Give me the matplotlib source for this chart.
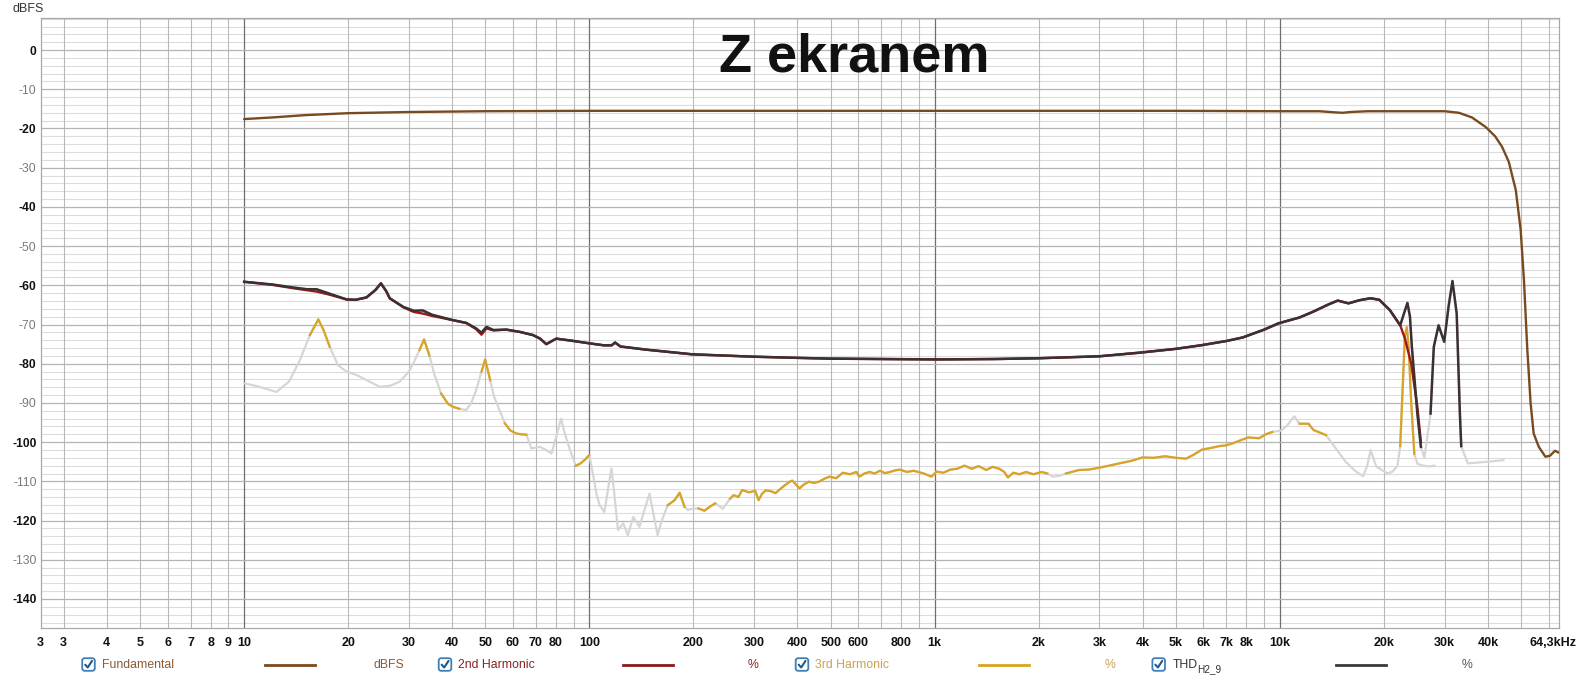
import numpy as np
import matplotlib
matplotlib.use("Agg")
import matplotlib.pyplot as plt
from matplotlib.patches import FancyBboxPatch

# ---------------- data ----------------
fund_f = [10, 12, 15, 20, 30, 50, 100, 1000, 5000, 10000, 13000, 14500, 15200, 16000,
          18000, 25000, 30000, 33000, 36000, 39400, 42000, 44000, 46000, 48200, 49800,
          50900, 52000, 53200, 54300, 56200, 58700, 60500, 62600, 64300]
fund_db = [-17.6, -17.2, -16.6, -16.1, -15.8, -15.6, -15.5, -15.5, -15.5, -15.6, -15.6,
           -15.9, -16.0, -15.8, -15.6, -15.6, -15.6, -16.0, -17.2, -19.6, -22.0, -24.7,
           -28.5, -35.7, -45.9, -58.7, -75.7, -90.0, -97.8, -101.2, -103.7, -103.5,
           -102.2, -102.7]

thd_f = [10, 12.1, 14, 15.2, 16.2, 17.5, 19.8, 21, 22.6, 24, 24.9, 25.8, 26.4, 28.9, 31,
         32.9, 35, 40.3, 44, 47, 48.7, 50.3, 52.7, 57.5, 63, 68.7, 72, 75, 80.2, 90, 100,
         110, 116, 118.7, 123, 145.7, 170, 198.5, 298, 400, 496, 700, 1016, 1500, 2000,
         3000, 3900, 5000, 5900, 7000, 7800, 9000, 9900, 11400, 12500, 13800, 14700,
         15800, 17000, 18300, 19400, 20800, 22300, 22900, 23400, 23800, 24100, 25000,
         25600, 26200, 27300, 27900, 28800, 29900, 30800, 31600, 32500, 33200, 33500,
         35000, 40000, 44400]
thd_db = [-59.1, -59.8, -60.6, -61.0, -61.0, -62.0, -63.6, -63.7, -63.1, -61.2, -59.5,
          -61.5, -63.3, -65.5, -66.5, -66.4, -67.5, -68.9, -69.6, -71.0, -72.1, -70.6,
          -71.4, -71.3, -71.9, -72.7, -73.6, -75.0, -73.6, -74.2, -74.8, -75.3, -75.3,
          -74.6, -75.6, -76.4, -77.0, -77.6, -78.2, -78.5, -78.7, -78.8, -78.9, -78.8,
          -78.6, -78.1, -77.2, -76.2, -75.3, -74.2, -73.3, -71.3, -69.7, -68.2, -66.7,
          -64.9, -63.9, -64.6, -63.8, -63.3, -63.7, -66.3, -70.2, -67.0, -64.5, -68.0,
          -75.7, -92.7, -101.2, -104.0, -92.7, -75.7, -70.2, -74.4, -65.3, -58.9, -67.2,
          -92.7, -101.0, -105.4, -105.0, -104.6]
thd_gray_ranges = [(25800, 27000), (34000, 45000)]

h2_f = [10, 12.1, 14, 16.2, 17.5, 19.8, 21, 22.6, 24, 24.9, 25.8, 26.4, 28.9, 31, 32.9,
        35, 40.3, 44, 47, 48.7, 50.3, 52.7, 57.5, 63, 68.7, 72, 75, 80.2, 90, 100, 110,
        116, 118.7, 123, 145.7, 170, 198.5, 298, 400, 496, 700, 1016, 1500, 2000, 3000,
        3900, 5000, 5900, 7000, 7800, 9000, 9900, 11400, 12500, 13800, 14700, 15800,
        17000, 18300, 19400, 20800, 22300, 23000, 24000, 25000, 25600]
h2_db = [-59.1, -59.9, -60.8, -61.6, -62.3, -63.6, -63.7, -63.1, -61.2, -59.5, -61.5,
         -63.3, -65.6, -66.8, -67.2, -67.8, -68.9, -69.6, -71.2, -72.6, -71.0, -71.5,
         -71.3, -71.9, -72.7, -73.6, -75.0, -73.6, -74.2, -74.8, -75.3, -75.3, -74.6,
         -75.6, -76.4, -77.0, -77.6, -78.2, -78.5, -78.7, -78.8, -78.9, -78.8, -78.6,
         -78.1, -77.2, -76.2, -75.3, -74.2, -73.3, -71.3, -69.7, -68.2, -66.7, -64.9,
         -63.9, -64.6, -63.8, -63.3, -63.7, -66.3, -70.2, -73.5, -80.0, -91.0, -100.0]

h3_f = [10, 11, 12.4, 13.5, 14.5, 15.5, 16.4, 17.0, 17.7, 18.7, 19.8, 21.2, 23, 24.7,
        26.5, 28.2, 30.0, 30.9, 32.2, 33.2, 34.4, 35.5, 37.2, 39, 40.3, 42, 44.0, 45.5,
        47.0, 48.7, 49.9, 51.6, 53, 55.6, 56.9, 59, 61.4, 63.5, 65.7, 67.9, 71.8, 75,
        77.7, 80.5, 82.8, 85, 87.5, 91.3, 94, 97, 99.9, 102.7, 105, 107.1, 110.5, 113,
        115.8, 118, 121.0, 125.3, 129.2, 134.0, 139.6, 143, 149.3, 153, 157.6, 162,
        168.5, 176.5, 182.5, 188.6, 193, 198, 206.9, 215.3, 223, 231.5, 243.6, 255.5,
        262, 270, 277, 290, 302, 309, 316, 324, 335, 346, 362, 380, 387, 406, 418, 432,
        447, 462, 480, 496, 518, 542, 568, 593, 605, 626, 648, 670, 694, 718, 743, 768,
        793, 830, 870, 930, 979, 1013, 1060, 1110, 1160, 1220, 1280, 1340, 1410, 1470,
        1540, 1590, 1630, 1690, 1760, 1840, 1930, 2040, 2120, 2200, 2300, 2400, 2520,
        2620, 2800, 3000, 3200, 3430, 3700, 4000, 4300, 4650, 5000, 5350, 5600, 5950,
        6300, 6680, 7000, 7300, 7700, 8100, 8700, 9100, 9500, 10100, 10500, 11000,
        11400, 12100, 12500, 13000, 13600, 14400, 15500, 16500, 17400, 17900, 18300,
        19000, 20500, 21200, 21900, 22300, 22700, 23000, 23300, 23600, 24000, 24500,
        25000, 26000, 27000, 28000]
h3_db = [-85.0, -85.8, -87.2, -84.5, -79.1, -72.7, -68.7, -71.5, -75.7, -80.4, -82.0,
         -82.9, -84.5, -85.9, -85.6, -84.6, -82.0, -79.9, -76.5, -73.8, -77.9, -82.5,
         -87.6, -90.3, -91.0, -91.5, -91.8, -90.0, -86.7, -82.0, -78.9, -84.2, -88.5,
         -93.0, -95.2, -97.0, -97.8, -98.0, -98.1, -101.6, -101.2, -102.0, -102.9, -98.0,
         -94.0, -98.0, -101.5, -106.0, -105.5, -104.5, -103.3, -108.8, -113.5, -116.1,
         -117.8, -112.5, -106.7, -113.0, -122.4, -120.7, -123.7, -119.1, -121.6, -118.5,
         -113.1, -118.0, -123.7, -120.0, -116.1, -114.8, -112.9, -116.5, -117.3, -117.0,
         -116.9, -117.5, -116.5, -115.6, -117.0, -114.4, -113.5, -114.0, -112.2, -112.8,
         -112.4, -114.8, -113.2, -112.3, -112.5, -113.0, -111.5, -110.1, -109.8, -111.8,
         -110.8, -110.1, -110.4, -110.1, -109.3, -108.8, -109.2, -107.8, -108.2, -107.6,
         -108.8, -108.0, -107.6, -108.0, -107.3, -107.9, -107.6, -107.2, -107.0, -107.6,
         -107.3, -108.0, -108.8, -107.5, -107.8, -107.0, -106.8, -106.0, -106.8, -106.1,
         -107.1, -106.3, -106.8, -107.6, -109.0, -107.8, -108.2, -107.6, -108.2, -107.6,
         -108.0, -108.8, -108.6, -108.0, -107.5, -107.1, -107.0, -106.5, -106.0, -105.4,
         -104.8, -103.9, -104.0, -103.6, -104.0, -104.2, -103.3, -101.9, -101.5, -101.0,
         -100.8, -100.3, -99.5, -98.8, -99.0, -98.0, -97.4, -97.0, -95.7, -93.4, -95.3,
         -95.3, -96.9, -97.5, -98.2, -101.2, -105.0, -107.3, -108.7, -106.0, -102.0,
         -106.2, -108.0, -107.5, -106.0, -101.0, -85.0, -73.0, -70.7, -76.0, -90.0,
         -103.0, -105.5, -106.0, -106.2, -106.0]
h3_gold_ranges = [(15.5, 17.7), (32.2, 34.4), (37.2, 42), (48.7, 51.6), (56.9, 65.7),
                  (91.3, 99.9), (168.5, 188.6), (206.9, 231.5), (255.5, 2120),
                  (2400, 9500), (11400, 13600), (22300, 24500)]

x_ticks = [2.575, 3, 4, 5, 6, 7, 8, 9, 10, 20, 30, 40, 50, 60, 70, 80, 100, 200, 300,
           400, 500, 600, 800, 1000, 2000, 3000, 4000, 5000, 6000, 7000, 8000, 10000,
           20000, 30000, 40000]
x_labels = ["3", "3", "4", "5", "6", "7", "8", "9", "10", "20", "30", "40", "50", "60",
            "70", "80", "100", "200", "300", "400", "500", "600", "800", "1k", "2k", "3k",
            "4k", "5k", "6k", "7k", "8k", "10k", "20k", "30k", "40k"]
x_end_label = "64,3kHz"
y_ticks = list(range(0, -150, -10))
y_labels = [str(v) for v in y_ticks]

legend_names = ["Fundamental", "2nd Harmonic", "3rd Harmonic", "THD"]
legend_units = ["dBFS", "%", "%", "%"]


def in_ranges(freqs, ranges):
    f = np.asarray(freqs, dtype=float)
    m = np.zeros(f.shape, dtype=bool)
    for lo, hi in ranges:
        m |= (f >= lo) & (f <= hi)
    return m


# ---------------- styling ----------------
W, H = 1579, 680
fig = plt.figure(figsize=(W / 100, H / 100), dpi=100)
L, R, T, B = 40.7, 1559, 18.3, 628
ax = fig.add_axes([L / W, 1 - B / H, (R - L) / W, (B - T) / H])
ax.set_xscale("log")
ax.set_xlim(2.575, 64300)
ax.set_ylim(-147.4, 8.1)

sans = ["Liberation Sans", "DejaVu Sans"]

# grid
for d in [1, 10, 100, 1000, 10000]:
    for m in range(1, 10):
        f = d * m
        if f < 2.6 or f > 64300:
            continue
        if m == 1:
            ax.axvline(f, color="#6f6f6f", lw=0.9, zorder=1)
        else:
            ax.axvline(f, color="#b9b9b9", lw=0.8, zorder=1)
for yv in range(-146, 9, 2):
    if yv % 10 == 0:
        ax.axhline(yv, color="#b4b4b4", lw=0.9, zorder=1)
    else:
        ax.axhline(yv, color="#dcdcdc", lw=0.8, zorder=0.9)

for s in ax.spines.values():
    s.set_color("#a8a8a8")
    s.set_linewidth(0.9)

ax.set_xticks(x_ticks)
ax.set_xticklabels(x_labels)
ax.xaxis.set_minor_locator(matplotlib.ticker.NullLocator())
ax.set_yticks(y_ticks)
ax.set_yticklabels(y_labels)
ax.tick_params(axis="both", length=0)
ax.tick_params(axis="x", pad=6.3)
ax.tick_params(axis="y", pad=3)
for lab in ax.get_xticklabels():
    lab.set_fontfamily(sans)
    lab.set_fontweight("bold")
    lab.set_fontsize(9)
    lab.set_color("#111111")
for v, lab in zip(y_ticks, ax.get_yticklabels()):
    lab.set_fontfamily(sans)
    lab.set_fontsize(8.7)
    if v % 20 == 0:
        lab.set_fontweight("bold")
        lab.set_color("#111111")
    else:
        lab.set_color("#7a7a7a")
fig.text(1577 / W, 1 - 646 / H, x_end_label, ha="right", va="baseline", fontsize=9,
         fontweight="bold", family=sans, color="#111111")

# curves
c_fund = "#7a4a1f"
c_h2 = "#a01818"
c_h3 = "#d9a323"
c_thd = "#3b3032"
c_gray = "#d6d6d6"

ax.plot(fund_f, fund_db, color=c_fund, lw=1.7, zorder=5, solid_capstyle="round")

h3f = np.array(h3_f, dtype=float)
h3d = np.array(h3_db, dtype=float)
h3m = in_ranges(h3f, h3_gold_ranges)
ax.plot(h3f, h3d, color=c_gray, lw=1.6, zorder=4)
ax.plot(h3f, np.where(h3m, h3d, np.nan), color=c_h3, lw=1.6, zorder=4.5)

thf = np.array(thd_f, dtype=float)
thd = np.array(thd_db, dtype=float)
thm = ~in_ranges(thf, thd_gray_ranges)
ax.plot(thf, thd, color=c_gray, lw=1.6, zorder=4.2)
ax.plot(h2_f, h2_db, color=c_h2, lw=1.7, zorder=6)
ax.plot(thf, np.where(thm, thd, np.nan), color=c_thd, lw=1.8, zorder=7)

# title
fig.text(854.7 / W, 1 - 58 / H, "Z ekranem", ha="center", va="center",
         fontsize=39, fontweight="bold", family=sans, color="#111111")
fig.text(12.5 / W, 1 - 8.5 / H, "dBFS", ha="left", va="center", fontsize=9,
         family=sans, color="#333333")

# legend (overlay in pixel coordinates)
ov = fig.add_axes([0, 0, 1, 1], zorder=10)
ov.set_xlim(0, W)
ov.set_ylim(H, 0)
ov.axis("off")
ov.patch.set_alpha(0)

leg_cb = [88.5, 445, 802, 1158.7]
leg_txt = [101.7, 458, 815, 1172.8]
leg_line = [265, 622.7, 979, 1336]
leg_unit = [374, 748, 1105, 1462]
leg_txtcol = ["#8a5a35", "#8b2222", "#c9a24e", "#333333"]
leg_unitcol = ["#8a5a35", "#8b2222", "#c9a24e", "#555555"]
leg_linecol = [c_fund, "#8b1a1a", c_h3, "#3a3a3a"]
yc = 664.5
for i in range(4):
    cx = leg_cb[i]
    box = FancyBboxPatch((cx - 6.3, yc - 6.3), 12.6, 12.6,
                         boxstyle="round,pad=0,rounding_size=2.5",
                         fc="white", ec="#3f7fb5", lw=1.3)
    ov.add_patch(box)
    ov.plot([cx - 3.3, cx - 0.8, cx + 3.5], [yc + 0.2, yc + 3.0, yc - 3.6],
            color="#1f5a8f", lw=1.5, solid_capstyle="round", solid_joinstyle="round")
    ov.text(leg_txt[i], yc, legend_names[i], ha="left", va="center", fontsize=8.8,
            family=sans, color=leg_txtcol[i])
    ov.plot([leg_line[i], leg_line[i] + 50], [yc + 0.5, yc + 0.5], color=leg_linecol[i],
            lw=2.0)
    ov.text(leg_unit[i], yc + 0.5, legend_units[i], ha="left", va="center", fontsize=8.8,
            family=sans, color=leg_unitcol[i])
ov.text(1197, yc + 4.5, "H2_9", ha="left", va="center", fontsize=7.2, family=sans,
        color="#333333")

fig.savefig("out.png", dpi=100)
